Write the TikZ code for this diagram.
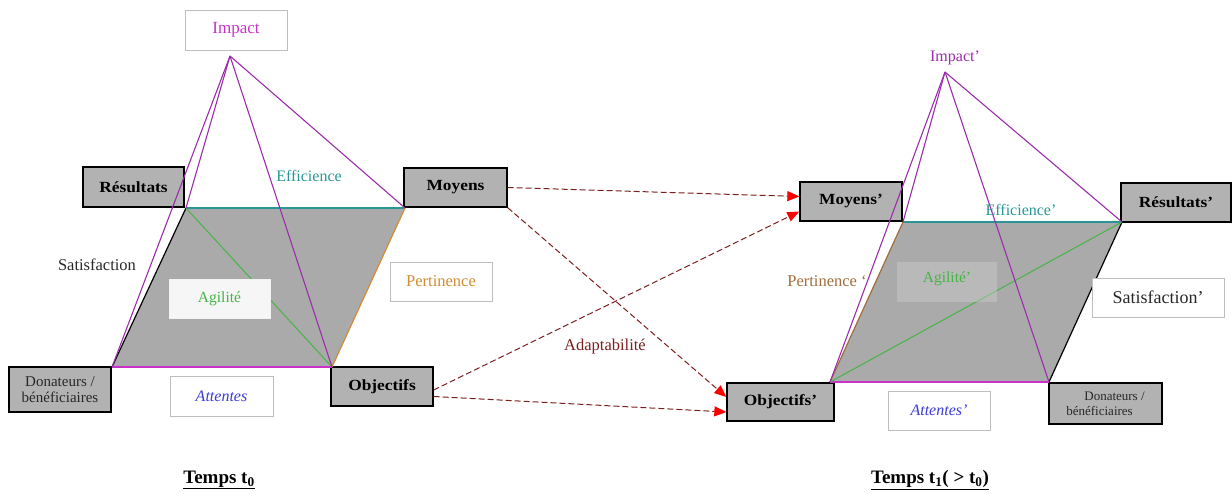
\documentclass[tikz,border=0pt]{standalone}
\usepackage{fontspec}
\setmainfont{Liberation Serif}
\newfontfamily\widebf[FakeStretch=1.12]{Liberation Serif}
\usetikzlibrary{arrows.meta,calc}
\definecolor{boxgray}{RGB}{178,178,178}
\definecolor{pargray}{RGB}{170,170,170}
\definecolor{lpurple}{RGB}{155,45,170}
\definecolor{lmagenta}{RGB}{200,50,200}
\definecolor{lteal}{RGB}{40,150,150}
\definecolor{lgreen}{RGB}{70,180,70}
\definecolor{lorange}{RGB}{210,140,50}
\definecolor{lbrown}{RGB}{160,110,60}
\definecolor{ldred}{RGB}{125,30,30}
\definecolor{lblue}{RGB}{60,60,220}
\definecolor{lborder}{RGB}{190,190,190}
\definecolor{txtgray}{RGB}{40,40,40}
\tikzset{
  mainbox/.style={draw=black, line width=1.3pt, fill=boxgray, inner sep=0pt, align=center, font=\widebf\bfseries\fontsize{15.5}{18}\selectfont},
  labbox/.style={draw=lborder, line width=0.8pt, fill=white, inner sep=0pt, align=center},
  pyr/.style={draw=lpurple, line width=1.1pt},
  adapt/.style={draw=ldred, line width=1pt, dash pattern=on 6pt off 3pt, -{Triangle[length=12pt,width=10pt,color=red]}},
  temps/.style={font=\bfseries\fontsize{19}{21}\selectfont},
  lab/.style={font=\fontsize{16}{18}\selectfont}
}
\begin{document}
\begin{tikzpicture}[x=1pt,y=-1pt]
\useasboundingbox (0,0) rectangle (1232,493);
% ---------- left parallelogram
\coordinate (Ltl) at (186,208);
\coordinate (Ltr) at (405,208);
\coordinate (Lbr) at (332,367);
\coordinate (Lbl) at (112,367);
\coordinate (Lap) at (230,56);
\fill[pargray] (Ltl) -- (Ltr) -- (Lbr) -- (Lbl) -- cycle;
% ---------- right parallelogram
\coordinate (Rtl) at (903,222);
\coordinate (Rtr) at (1122,222);
\coordinate (Rbr) at (1049,382);
\coordinate (Rbl) at (830,382);
\coordinate (Rap) at (945,72);
\fill[pargray] (Rtl) -- (Rtr) -- (Rbr) -- (Rbl) -- cycle;
% ---------- main boxes
\node[mainbox, minimum width=101pt, minimum height=40pt] (res) at (133.5,187) {Résultats};
\node[mainbox, minimum width=103pt, minimum height=39pt] (moy) at (455.5,187.5) {Moyens};
\node[mainbox, minimum width=102pt, minimum height=45pt, font=\fontsize{15}{16}\selectfont, text=txtgray] (don) at (60,389.5) {Donateurs /\\bénéficiaires};
\node[mainbox, minimum width=102pt, minimum height=39pt] (obj) at (382,386.5) {Objectifs};
\node[mainbox, minimum width=102pt, minimum height=39pt] (moyp) at (851,201.5) {Moyens’};
\node[mainbox, minimum width=110pt, minimum height=39pt] (resp) at (1176,202.5) {Résultats’};
\node[mainbox, minimum width=107pt, minimum height=38pt] (objp) at (780.5,402) {Objectifs’};
\node[mainbox, minimum width=113pt, minimum height=41pt, font=\fontsize{13}{15}\selectfont, align=left, text=txtgray] (donp) at (1105.5,403.5) {\hspace*{18pt}Donateurs /\\bénéficiaires};
% ---------- left edges
\draw[lteal, line width=1.2pt] (Ltl) -- (Ltr);
\draw[black, line width=1.2pt] (Ltl) -- (Lbl);
\draw[lorange, line width=1.2pt] (Ltr) -- (Lbr);
\draw[lmagenta, line width=1.2pt] (Lbl) -- (Lbr);
\draw[lgreen, line width=1pt] (Ltl) -- (Lbr);
\draw[pyr] (Lap) -- (Ltl);
\draw[pyr] (Lap) -- (Lbl);
\draw[pyr] (Lap) -- (Lbr);
\draw[pyr] (Lap) -- (Ltr);
% ---------- right edges
\draw[lteal, line width=1.2pt] (Rtl) -- (Rtr);
\draw[lbrown, line width=1.2pt] (Rtl) -- (Rbl);
\draw[black, line width=1.2pt] (Rtr) -- (Rbr);
\draw[lmagenta, line width=1.2pt] (Rbl) -- (Rbr);
\draw[lgreen, line width=1pt] (Rbl) -- (Rtr);
\draw[pyr] (Rap) -- (Rtl);
\draw[pyr] (Rap) -- (Rbl);
\draw[pyr] (Rap) -- (Rbr);
\draw[pyr] (Rap) -- (Rtr);
% ---------- label boxes left
\node[labbox, minimum width=102pt, minimum height=40pt, text=lmagenta, font=\fontsize{17}{18}\selectfont] (imp) at (236,30) {Impact};
\node[labbox, draw=white!90!gray, fill=white!93!gray, minimum width=101pt, minimum height=39pt, text=lgreen, font=\fontsize{15.5}{18}\selectfont] (agi) at (219.5,298.5) {Agilité};
\node[labbox, minimum width=102pt, minimum height=39pt, text=lorange, font=\fontsize{16.5}{18}\selectfont] (per) at (441,281.5) {Pertinence};
\node[labbox, minimum width=103pt, minimum height=40pt, text=lblue, font=\itshape\fontsize{16}{18}\selectfont] (att) at (221.5,396) {Attentes};
\node[text=txtgray, font=\fontsize{16.5}{18}\selectfont] (sat) at (97,265) {Satisfaction};
\node[lab, text=lteal] (eff) at (309,176) {Efficience};
% ---------- label boxes right
\node[lab, text=lpurple] (impp) at (955,58) {Impact’};
\node[draw=none, fill=white!40!pargray, opacity=0.45, minimum width=100pt, minimum height=40pt, inner sep=0pt] (agipbg) at (947,282) {};
\node[text=lgreen, font=\fontsize{15.5}{18}\selectfont] (agip) at (947,279) {Agilité’};
\node[labbox, minimum width=132pt, minimum height=39pt, text=txtgray, font=\fontsize{18}{20}\selectfont] (satp) at (1158,297.5) {Satisfaction’};
\node[labbox, minimum width=102pt, minimum height=39pt, text=lblue, font=\itshape\fontsize{16}{18}\selectfont] (attp) at (939,410.5) {Attentes’};
\node[lab, text=lteal] (effp) at (1021,210) {Efficience’};
\node[text=lbrown, font=\fontsize{16.5}{18}\selectfont] (perp) at (827,281) {Pertinence ‘};
% ---------- adaptability arrows
\draw[adapt] (moy.east) -- ([yshift=5pt]moyp.west);
\draw[adapt] (moy.south east) -- ([yshift=5pt]objp.west);
\draw[adapt] ([yshift=-3.5pt]obj.east) -- ([yshift=-10pt]moyp.west);
\draw[adapt] ([yshift=-10pt]obj.east) -- ([yshift=-10pt]objp.west);
\node[text=ldred, font=\fontsize{16.5}{18}\selectfont] (ada) at (605,347) {Adaptabilité};
% ---------- time labels
\node[temps] (t0) at (219,480) {\underline{Temps t\textsubscript{0}}};
\node[temps] (t1) at (930,480) {\underline{Temps t\textsubscript{1}( > t\textsubscript{0})}};
\end{tikzpicture}
\end{document}
